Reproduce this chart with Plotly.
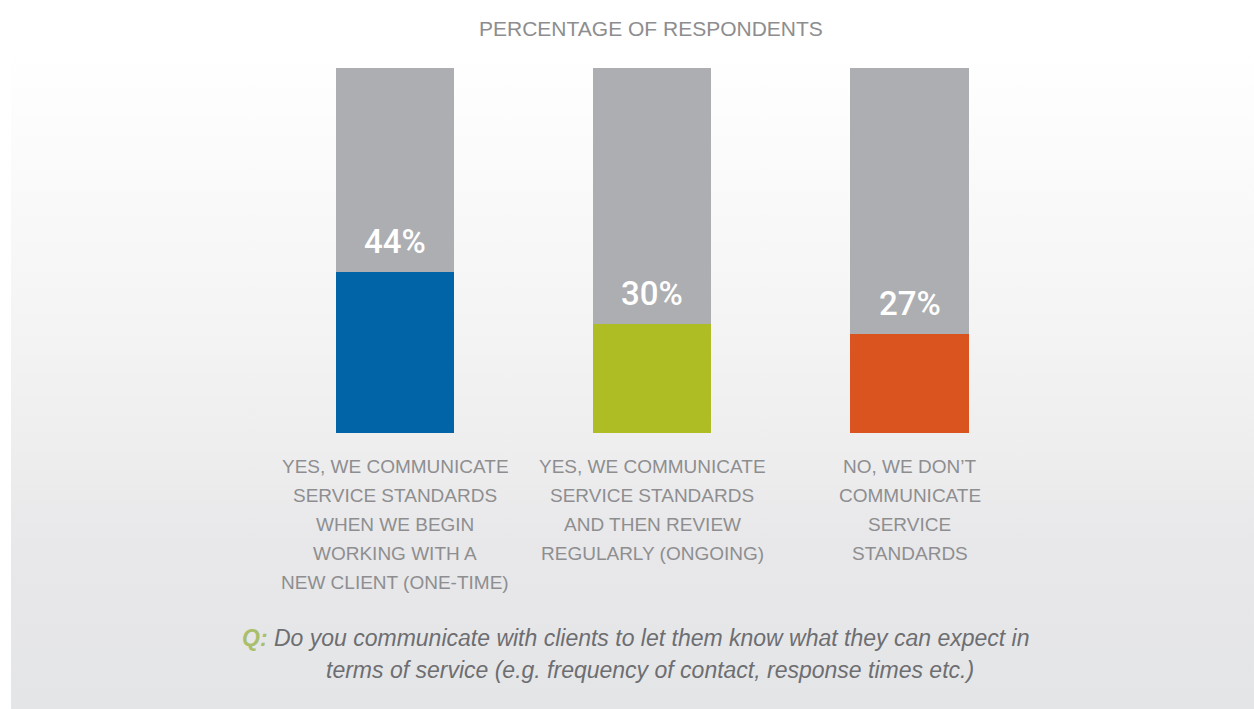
import base64
import plotly.graph_objects as go

# Survey results
categories = ["one_time", "ongoing", "none"]
share_pct = [44, 30, 27]
bar_colors = ["#0064a7", "#adbd23", "#d9541e"]
label_lines = [
    ["YES, WE COMMUNICATE", "SERVICE STANDARDS", "WHEN WE BEGIN", "WORKING WITH A", "NEW CLIENT (ONE-TIME)"],
    ["YES, WE COMMUNICATE", "SERVICE STANDARDS", "AND THEN REVIEW", "REGULARLY (ONGOING)"],
    ["NO, WE DON\u2019T", "COMMUNICATE", "SERVICE", "STANDARDS"],
]
title_text = "PERCENTAGE OF RESPONDENTS"
question_lines = [
    "Do you communicate with clients to let them know what they can expect in",
    "terms of service (e.g. frequency of contact, response times etc.)",
]

W, H = 1254, 709
remainder = [100 - v for v in share_pct]


def py(pix):
    """Pixel row from top -> paper y."""
    return 1 - pix / H


def px(pix):
    return pix / W


fig = go.Figure()
fig.add_trace(go.Bar(x=categories, y=share_pct, marker=dict(color=bar_colors, line=dict(width=0)),
                     width=0.46, hoverinfo="skip"))
fig.add_trace(go.Bar(x=categories, y=remainder, marker=dict(color="#adaeb1", line=dict(width=0)),
                     width=0.46, hoverinfo="skip"))

# Value labels sit just above the coloured segment
for cat, v in zip(categories, share_pct):
    fig.add_annotation(x=cat, y=v, xref="x", yref="y", text=f"{v}%", showarrow=False,
                       yanchor="bottom", yshift=9,
                       font=dict(family="Roboto", size=33, color="white", weight=500))

# Category labels, one annotation per line for tighter control of leading
for ci, lines in enumerate(label_lines):
    for li, line in enumerate(lines):
        fig.add_annotation(x=categories[ci], xref="x", y=py(466 + 29 * li), yref="paper",
                           text=line, showarrow=False, yanchor="middle",
                           font=dict(family="Liberation Sans", size=19, color="#8e8e90"))

fig.add_annotation(x=px(651), y=py(28), xref="paper", yref="paper", text=title_text,
                   showarrow=False, yanchor="middle",
                   font=dict(family="Liberation Sans", size=21, color="#8d8d8f"))

fig.add_annotation(x=px(635), y=py(638), xref="paper", yref="paper",
                   text="<b><span style='color:#a9bf6c'>Q:</span></b> " + question_lines[0],
                   showarrow=False, yanchor="middle",
                   font=dict(family="Liberation Sans", size=23, color="#6d6e71", style="italic"))
fig.add_annotation(x=px(650), y=py(670), xref="paper", yref="paper",
                   text=question_lines[1], showarrow=False, yanchor="middle",
                   font=dict(family="Liberation Sans", size=23, color="#6d6e71", style="italic"))

# Soft vertical gradient panel behind the chart
svg = (
    "<svg xmlns='http://www.w3.org/2000/svg' width='100' height='100' viewBox='0 0 100 100' "
    "preserveAspectRatio='none'><defs><linearGradient id='g' x1='0' y1='0' x2='0' y2='1'>"
    "<stop offset='0' stop-color='#ffffff'/><stop offset='0.35' stop-color='#f6f6f6'/>"
    "<stop offset='0.6' stop-color='#eeeeef'/><stop offset='0.75' stop-color='#e8e8ea'/>"
    "<stop offset='1' stop-color='#e4e5e7'/></linearGradient></defs>"
    "<rect width='100' height='100' fill='url(#g)'/></svg>"
)
src = "data:image/svg+xml;base64," + base64.b64encode(svg.encode()).decode()
fig.add_layout_image(source=src, xref="paper", yref="paper", x=px(11), y=py(50),
                     sizex=px(W - 11), sizey=(H - 50) / H, xanchor="left", yanchor="top",
                     sizing="stretch", layer="below")

unit = (909.5 - 395) / 2
fig.update_layout(
    width=W, height=H, barmode="stack", showlegend=False,
    margin=dict(l=0, r=0, t=0, b=0),
    paper_bgcolor="white", plot_bgcolor="rgba(0,0,0,0)",
    xaxis=dict(domain=[0, 1], range=[-395 / unit, (W - 395) / unit], visible=False, fixedrange=True),
    yaxis=dict(domain=[py(433), py(68)], range=[0, 100], visible=False, fixedrange=True),
)

fig.write_html("out.html")
